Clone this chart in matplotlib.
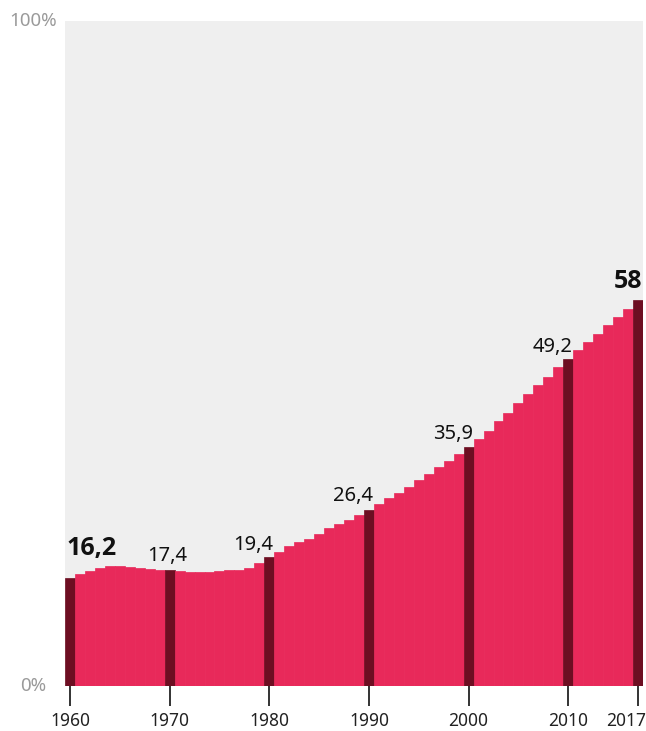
import matplotlib
matplotlib.use('Agg')
import matplotlib.pyplot as plt
from matplotlib.transforms import offset_copy
from matplotlib import font_manager

# ---- data ----
years = list(range(1960, 2018))
urban_share = [
    16.2, 16.8, 17.3, 17.7, 18.1, 18.1, 17.9, 17.8, 17.6, 17.5,
    17.4, 17.3, 17.2, 17.2, 17.2, 17.3, 17.4, 17.4, 17.8, 18.5,
    19.4, 20.2, 21.0, 21.6, 22.1, 22.9, 23.7, 24.4, 25.0, 25.7,
    26.4, 27.4, 28.2, 29.0, 29.9, 31.0, 31.9, 32.9, 33.9, 34.9,
    35.9, 37.1, 38.4, 39.8, 41.1, 42.5, 43.9, 45.2, 46.5, 47.9,
    49.2, 50.5, 51.8, 53.0, 54.3, 55.5, 56.7, 58.0,
]
highlight_years = [1960, 1970, 1980, 1990, 2000, 2010, 2017]
tick_labels = ['1960', '1970', '1980', '1990', '2000', '2010', '2017']
value_labels = ['16,2', '17,4', '19,4', '26,4', '35,9', '49,2', '58']
y_labels = ['0%', '100%']
y_label_values = [0, 100]

# ---- style ----
RED = '#e8295a'
DARK = '#6d0e22'
BG = '#efefef'
GRAY = '#9a9a9a'

plt.rcParams['font.family'] = ['Noto Sans', 'DejaVu Sans']

# pick a family that really has a bold face
bold_family = 'DejaVu Sans'
for fam in ['Noto Sans', 'Open Sans', 'Roboto', 'Lato']:
    for f in font_manager.fontManager.ttflist:
        if f.name == fam and (f.weight in (700, 'bold') or 'Bold' in f.fname) \
                and 'Italic' not in f.fname:
            bold_family = fam
            break
    if bold_family != 'DejaVu Sans':
        break

fig = plt.figure(figsize=(6.46, 7.31), dpi=100)
ax = fig.add_axes([65 / 646, 45 / 731, 578 / 646, 665 / 731])
ax.set_facecolor(BG)

colors = [DARK if y in highlight_years else RED for y in years]
ax.bar(years, urban_share, width=1.0, color=colors, edgecolor=colors,
       linewidth=0.5, align='center')

ax.set_xlim(1959.5, 2017.5)
ax.set_ylim(0, 100)
for s in ax.spines.values():
    s.set_visible(False)

# x ticks
ax.set_xticks(highlight_years)
ax.set_xticklabels([])
ax.tick_params(axis='x', length=14.5, width=1.4, color='#333333', direction='out')
ax.set_yticks([])

# x tick labels drawn manually
xtrans = ax.get_xaxis_transform()
for i, (yr, lab) in enumerate(zip(highlight_years, tick_labels)):
    if i == len(highlight_years) - 1:
        tr = offset_copy(xtrans, fig=fig, x=8, y=-40, units='dots')
        ha = 'right'
    else:
        tr = offset_copy(xtrans, fig=fig, x=0, y=-40, units='dots')
        ha = 'center'
    ax.text(yr, 0, lab, transform=tr, ha=ha, va='baseline', fontsize=12.5,
            color='#222222')

# y labels centred left of the axes
ytrans = offset_copy(ax.get_yaxis_transform(), fig=fig, x=-32, y=0, units='dots')
for v, lab in zip(y_label_values, y_labels):
    ax.text(0, v, lab, transform=ytrans, ha='center', va='center',
            fontsize=13.5, color=GRAY)

# value labels
label_layout = [  # (x anchor shift in bars, ha, dx px, dy px, size, bold)
    (-0.5, 'left', 2, 23, 18, True),
    (0.0, 'center', -2, 9, 14.5, False),
    (0.5, 'right', -1, 7, 14.5, False),
    (0.5, 'right', -1, 9, 14.5, False),
    (0.5, 'right', -1, 8, 14.5, False),
    (0.5, 'right', -1, 7, 14.5, False),
    (0.5, 'right', -1, 12, 18, True),
]
for yr, lab, (sh, ha, dx, dy, fs, b) in zip(highlight_years, value_labels, label_layout):
    val = urban_share[years.index(yr)]
    kw = dict(fontweight='bold', family=[bold_family, 'DejaVu Sans']) if b else {}
    ax.annotate(lab, xy=(yr + sh, val), xytext=(dx, dy), textcoords='offset pixels',
                ha=ha, va='baseline', fontsize=fs, color='#111111',
                annotation_clip=False, **kw)

fig.savefig('out.png', dpi=100, facecolor='white')
